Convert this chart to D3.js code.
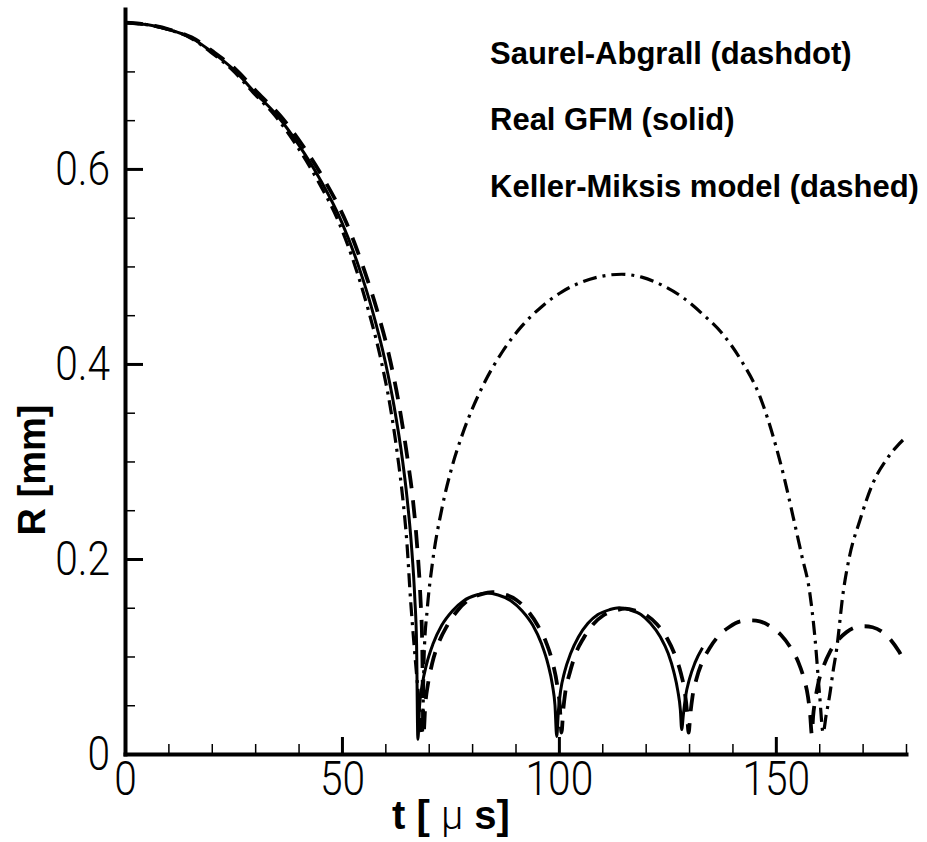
<!DOCTYPE html>
<html>
<head>
<meta charset="utf-8">
<script src="https://cdn.jsdelivr.net/npm/d3@7"></script>
<style>
  html, body { margin: 0; padding: 0; background: #fff; }
  svg { display: block; }
</style>
</head>
<body>
<svg id="chart" width="927" height="842"></svg>
<script>
// Bubble radius R [mm] versus time t [µs] for three models.
const saurelAbgrall = [
  [0,0.750],[4.9,0.748],[9.9,0.743],[14.8,0.735],[19.7,0.720],[24.6,0.702],[29.6,0.678],[34.5,0.655],
  [39.4,0.625],[44.3,0.589],[49.3,0.545],[53.2,0.498],[56.1,0.455],[59.1,0.402],[61.1,0.357],[63.0,0.300],
  [64.0,0.263],[65.0,0.215],[65.8,0.159],[66.6,0.113],[67.6,0.062],[68.5,0.020],
  [68.96,0.103],[69.65,0.148],[70.8,0.194],[73.1,0.253],[75.4,0.295],[77.7,0.327],[82.3,0.376],[86.9,0.412],
  [91.5,0.439],[96.1,0.459],[100.7,0.474],[105.3,0.484],[109.9,0.490],[114.5,0.492],[119.1,0.489],[123.7,0.481],
  [128.3,0.469],[132.9,0.452],[137.5,0.432],[142.1,0.403],[146.3,0.367],[150,0.316],[152,0.282],[154,0.243],
  [156,0.203],[157.8,0.166],[159,0.120],[160.1,0.060],[160.9,0.022],
  [161.6,0.040],[162.4,0.060],[163.2,0.085],[164,0.107],[165.5,0.165],[167,0.203],[169.4,0.240],[172.4,0.278],
  [175.5,0.302],[177.8,0.315],[180,0.325]
];

const realGFM = [
  [0,0.750],[5,0.748],[10,0.743],[15,0.735],[20,0.720],[25,0.702],[30,0.678],[35,0.655],[40,0.625],[45,0.589],
  [50,0.545],[54,0.498],[57,0.455],[60,0.402],[62,0.357],[64,0.300],[65,0.263],[66,0.215],[66.8,0.159],[67.2,0.113],
  [67.5,0.015],
  [67.9,0.050],[68.5,0.071],[69.5,0.092],[71,0.113],[73,0.132],[75.5,0.147],[78,0.157],[81,0.163],[83.5,0.165],
  [86,0.163],[89,0.157],[91.5,0.147],[94,0.132],[96,0.113],[97.5,0.092],[98.5,0.071],[99.1,0.050],[99.5,0.018],
  [99.9,0.045],[100.4,0.065],[101.3,0.084],[102.7,0.103],[104.5,0.120],[106.7,0.134],[109,0.143],[111.7,0.148],
  [113.9,0.150],[116.2,0.148],[118.9,0.143],[121.1,0.134],[123.4,0.120],[125.2,0.103],[126.5,0.084],[127.4,0.065],
  [128,0.045],[128.3,0.025],
  [128.7,0.041],[129.2,0.059],[130.1,0.077],[131.4,0.094],[133.1,0.109]
];

const kellerMiksis = [
  [0,0.750],[5.1,0.748],[10.2,0.743],[15.3,0.735],[20.4,0.720],[25.5,0.702],[30.6,0.678],[35.7,0.655],
  [40.8,0.625],[45.9,0.589],[51.0,0.545],[55.0,0.498],[58.1,0.455],[61.2,0.402],[63.2,0.357],[65.2,0.300],
  [66.3,0.263],[67.3,0.215],[68.1,0.159],[68.5,0.113],[68.8,0.020],
  [69.2,0.050],[69.8,0.071],[70.8,0.093],[72.3,0.114],[74.3,0.132],[76.8,0.148],[79.2,0.158],[82.2,0.164],
  [84.7,0.166],[87.2,0.164],[90.2,0.158],[92.6,0.148],[95.1,0.132],[97.1,0.114],[98.6,0.093],[99.6,0.071],
  [100.2,0.050],[100.6,0.022],
  [101.0,0.045],[101.5,0.064],[102.5,0.083],[103.8,0.102],[105.7,0.119],[107.9,0.133],[110.2,0.142],[113.0,0.147],
  [115.3,0.149],[117.6,0.147],[120.3,0.142],[122.6,0.133],[124.9,0.119],[126.7,0.102],[128.1,0.083],[129.0,0.064],
  [129.5,0.045],[129.9,0.022],
  [130.3,0.041],[130.8,0.059],[131.7,0.077],[133.0,0.094],[134.8,0.109],[137.0,0.122],[139.2,0.130],[141.9,0.136],
  [144.1,0.137],[146.3,0.136],[149.0,0.130],[151.2,0.122],[153.4,0.109],[155.2,0.094],[156.5,0.077],[157.4,0.059],
  [157.9,0.041],[158.3,0.020],
  [158.6,0.039],[159.1,0.056],[159.8,0.073],[161.0,0.090],[162.5,0.105],[164.4,0.117],[166.3,0.125],[168.5,0.130],
  [170.4,0.131],[172.3,0.130],[174.6,0.125],[176.5,0.117],[178.4,0.105],[180,0.092]
];

const legendLabels = ["Saurel-Abgrall (dashdot)", "Real GFM (solid)", "Keller-Miksis model (dashed)"];
const xMajorTicks = [0, 50, 100, 150];
const xMinorTicks = [10, 20, 30, 40, 60, 70, 80, 90, 110, 120, 130, 140, 160, 170, 180];
const yMajorTicks = [0, 0.2, 0.4, 0.6];
const yMinorTicks = [0.05, 0.1, 0.15, 0.25, 0.3, 0.35, 0.45, 0.5, 0.55, 0.65, 0.7];
const xDomain = [0, 180];
const yDomain = [0, 0.764];

const svg = d3.select("#chart");
const plot = { left: 125, right: 906, top: 9, bottom: 754 };

const x = d3.scaleLinear().domain(xDomain).range([plot.left, plot.right]);
const y = d3.scaleLinear().domain(yDomain).range([plot.bottom, plot.top]);

const tickFont = "Roboto, 'DejaVu Sans', sans-serif";
const boldFont = "'Liberation Sans', Arial, Helvetica, sans-serif";

// Narrow the thin tick numerals horizontally
function squeeze(sel, k) {
  sel.each(function () {
    const w = this.getComputedTextLength();
    d3.select(this).attr("textLength", w * k).attr("lengthAdjust", "spacingAndGlyphs");
  });
}

// ---- curves ----
const line = d3.line()
  .x(d => x(d[0]))
  .y(d => y(d[1]))
  .curve(d3.curveMonotoneX);

const curves = svg.append("g").attr("fill", "none").attr("stroke", "#000")
  .attr("stroke-linejoin", "round");

curves.append("path").datum(saurelAbgrall)
  .attr("d", line)
  .attr("stroke-width", 3.2)
  .attr("stroke-dasharray", "14,6,3,6");

curves.append("path").datum(realGFM)
  .attr("d", line)
  .attr("stroke-width", 3);

curves.append("path").datum(kellerMiksis)
  .attr("d", line)
  .attr("stroke-width", 3.8)
  .attr("stroke-dasharray", "18,12");

// ---- x axis ----
const gxMinor = svg.append("g").attr("transform", `translate(0,${plot.bottom})`)
  .call(d3.axisBottom(x).tickValues(xMinorTicks).tickSize(-10).tickSizeOuter(0).tickFormat(""));
gxMinor.select(".domain").remove();
gxMinor.selectAll(".tick line").attr("stroke-width", 1.5);

const gx = svg.append("g").attr("transform", `translate(0,${plot.bottom})`)
  .call(d3.axisBottom(x).tickValues(xMajorTicks).tickSize(-17).tickSizeOuter(0).tickPadding(6)
    .tickFormat(d3.format("d")));
gx.select(".domain").attr("stroke-width", 4).attr("stroke-linecap", "square");
gx.selectAll(".tick line").attr("stroke-width", 3);
gx.selectAll(".tick text")
  .attr("font-family", tickFont).attr("font-weight", 300).attr("font-size", 49)
  .attr("fill", "#000")
  .call(squeeze, 0.83);

// ---- y axis ----
const gyMinor = svg.append("g").attr("transform", `translate(${plot.left},0)`)
  .call(d3.axisLeft(y).tickValues(yMinorTicks).tickSize(-10).tickSizeOuter(0).tickFormat(""));
gyMinor.select(".domain").remove();
gyMinor.selectAll(".tick line").attr("stroke-width", 1.5);

const gy = svg.append("g").attr("transform", `translate(${plot.left},0)`)
  .call(d3.axisLeft(y).tickValues(yMajorTicks).tickSize(-18).tickSizeOuter(0).tickPadding(15)
    .tickFormat(d => d === 0 ? "0" : d3.format(".1f")(d)));
gy.select(".domain").attr("stroke-width", 4).attr("stroke-linecap", "square");
gy.selectAll(".tick line").attr("stroke-width", 3);
gy.selectAll(".tick text")
  .attr("font-family", tickFont).attr("font-weight", 300).attr("font-size", 49)
  .attr("fill", "#000")
  .call(squeeze, 0.83);

// ---- axis titles ----
const xTitle = svg.append("text")
  .attr("x", 392).attr("y", 829)
  .attr("font-family", boldFont).attr("font-size", 40).attr("fill", "#000");
xTitle.append("tspan").attr("font-weight", "bold").text("t [ ");
xTitle.append("tspan").attr("font-family", tickFont).attr("font-weight", 300).text("\u03bc");
xTitle.append("tspan").attr("font-weight", "bold").text(" s]");

svg.append("text")
  .attr("transform", `translate(45,470) rotate(-90)`)
  .attr("text-anchor", "middle")
  .attr("font-family", boldFont).attr("font-weight", "bold").attr("font-size", 38)
  .attr("fill", "#000")
  .text("R [mm]");

// ---- legend text ----
const legendBaselines = [64, 130, 197];
svg.append("g").selectAll("text").data(legendLabels).join("text")
  .attr("x", 490)
  .attr("y", (d, i) => legendBaselines[i])
  .attr("font-family", boldFont).attr("font-weight", "bold").attr("font-size", 31)
  .attr("fill", "#000")
  .text(d => d);
</script>
</body>
</html>
